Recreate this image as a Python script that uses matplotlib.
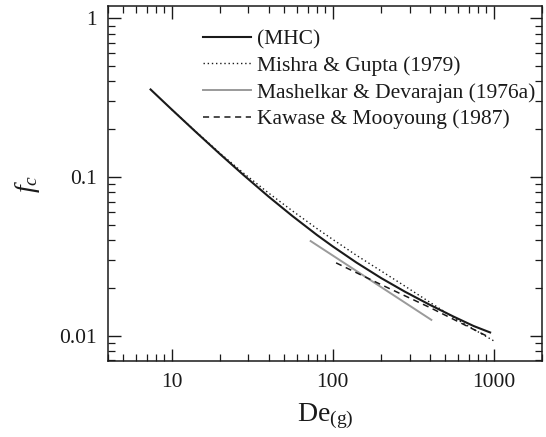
import numpy as np
import matplotlib
matplotlib.use('Agg')
import matplotlib.pyplot as plt
from matplotlib.ticker import FixedLocator, FixedFormatter, LogLocator, NullFormatter

plt.rcParams['font.family'] = ['Liberation Serif', 'DejaVu Serif']
plt.rcParams['mathtext.fontset'] = 'custom'
plt.rcParams['mathtext.rm'] = 'Liberation Serif'
plt.rcParams['mathtext.it'] = 'Liberation Serif:italic'

# data
de_mhc = [7.4, 10, 14, 20, 28, 40, 56, 80, 100, 140, 200, 280, 400, 560, 750, 950]
fc_mhc = [0.356, 0.2667, 0.194, 0.1393, 0.1028, 0.0753, 0.0570, 0.0431, 0.0366,
          0.0290, 0.0231, 0.0190, 0.0157, 0.01325, 0.01153, 0.0105]

de_mg = [10, 14, 20, 28, 40, 56, 80, 100, 140, 200, 280, 400, 560, 750, 1000]
fc_mg = [0.2667, 0.195, 0.141, 0.1057, 0.0793, 0.0614, 0.0473, 0.0405, 0.0322,
         0.0256, 0.0206, 0.0163, 0.0131, 0.0110, 0.0093]

de_md = [73, 410]
fc_md = [0.0395, 0.0126]

de_km = [105, 200, 400, 600, 900]
fc_km = [0.0288, 0.0210, 0.0151, 0.0123, 0.0100]

labels = ['(MHC)', 'Mishra & Gupta (1979)', 'Mashelkar & Devarajan (1976a)',
          'Kawase & Mooyoung (1987)']

fig = plt.figure(figsize=(5.46, 4.37), dpi=100)
ax = fig.add_axes([0.197, 0.173, 0.796, 0.814])

ink = '#1a1a1a'
ax.plot(de_mhc, fc_mhc, color=ink, lw=1.5, label=labels[0])
ax.plot(de_mg, fc_mg, color=ink, lw=1.0, linestyle=(0, (1, 2)), label=labels[1])
ax.plot(de_md, fc_md, color='#9a9a9a', lw=1.4, label=labels[2])
ax.plot(de_km, fc_km, color=ink, lw=1.1, linestyle=(0, (4, 3)), label=labels[3])

ax.set_xscale('log')
ax.set_yscale('log')
ax.set_xlim(4, 2000)
ax.set_ylim(0.0069, 1.2)

ax.xaxis.set_major_locator(FixedLocator([10, 100, 1000]))
ax.xaxis.set_major_formatter(FixedFormatter(['10', '100', '1000']))
ax.yaxis.set_major_locator(FixedLocator([0.01, 0.1, 1]))
ax.yaxis.set_major_formatter(FixedFormatter(['0.01', '0.1', '1']))
ax.xaxis.set_minor_locator(LogLocator(base=10, subs=np.arange(2, 10)))
ax.yaxis.set_minor_locator(LogLocator(base=10, subs=np.arange(2, 10)))
ax.xaxis.set_minor_formatter(NullFormatter())
ax.yaxis.set_minor_formatter(NullFormatter())

ax.tick_params(which='both', direction='in', top=True, right=True, color=ink,
               labelsize=15.5, labelcolor=ink)
ax.tick_params(which='major', length=9, width=1.0, pad=8)
ax.tick_params(which='minor', length=5, width=0.9)
for s in ax.spines.values():
    s.set_linewidth(1.1)
    s.set_color(ink)

ax.set_xlabel(r'$\mathrm{De}_{\mathrm{(g)}}$', fontsize=20, color=ink, labelpad=7)
ax.set_ylabel(r'$f_c$', fontsize=20, color=ink, labelpad=12)

leg = ax.legend(loc='upper left', bbox_to_anchor=(0.22, 0.934), frameon=False,
                fontsize=15.5, handlelength=2.2, handletextpad=0.3,
                labelspacing=0.31, borderpad=0, borderaxespad=0)
for t in leg.get_texts():
    t.set_color(ink)

fig.savefig('out.png', dpi=100)
